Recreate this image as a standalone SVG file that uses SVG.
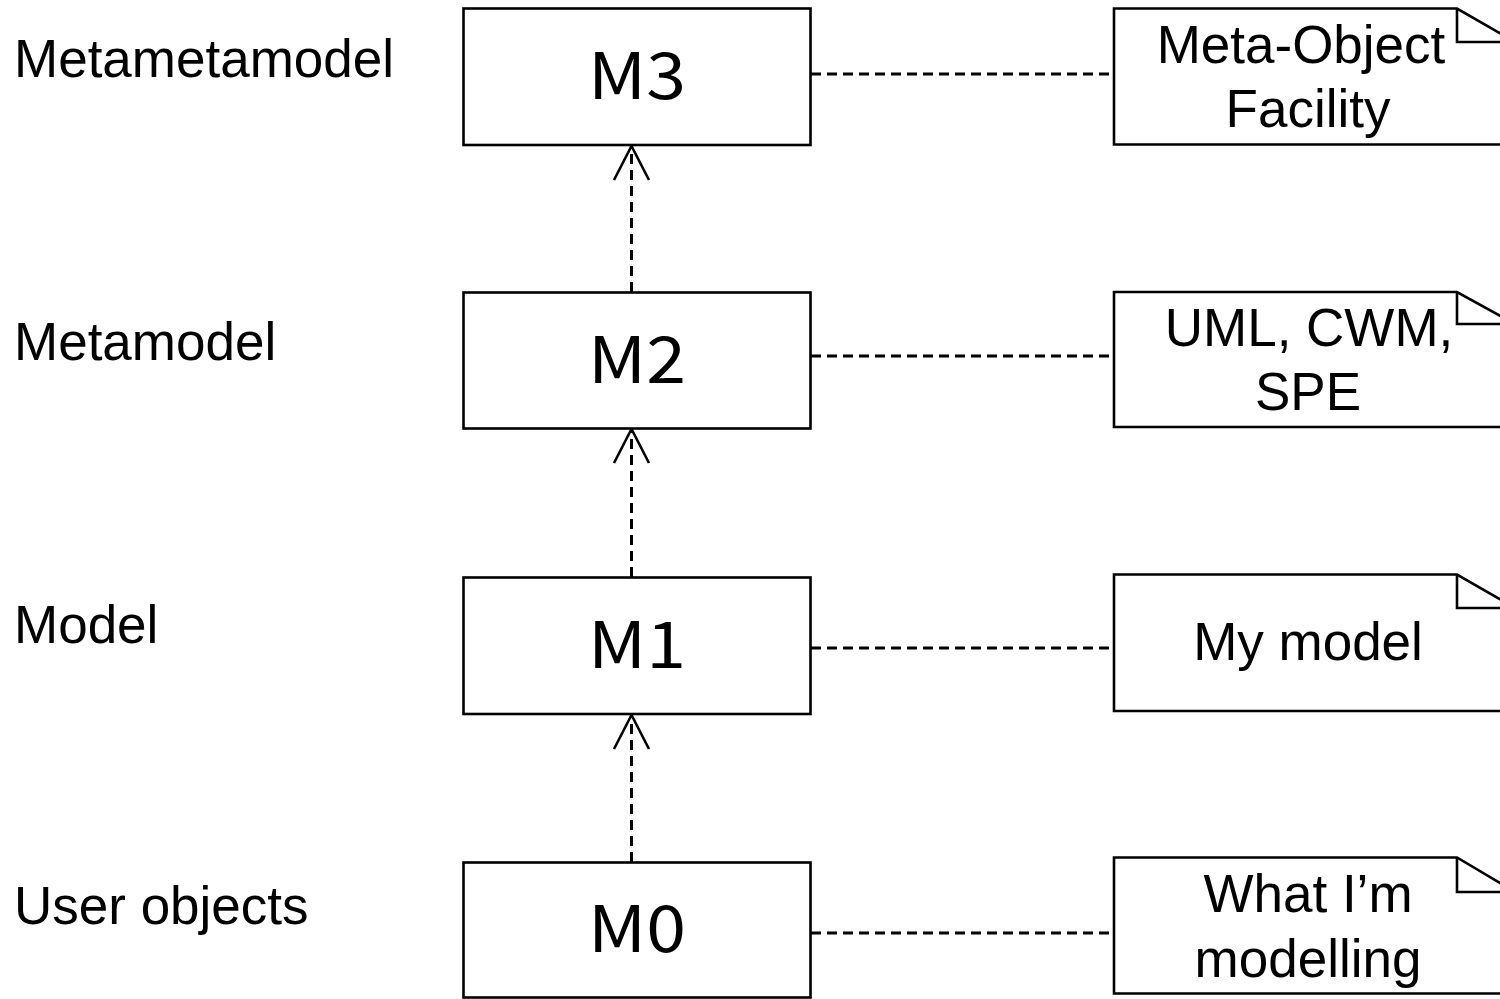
<svg xmlns="http://www.w3.org/2000/svg" width="1500" height="999" viewBox="0 0 1500 999">
<style>
.box{fill:#fff;stroke:#000;stroke-width:2.6}
.note{fill:#fff;stroke:#000;stroke-width:2.6;stroke-linejoin:miter}
.fold{fill:none;stroke:#000;stroke-width:2.6}
.dash{fill:none;stroke:#000;stroke-width:3;stroke-dasharray:10 6}
.head{fill:none;stroke:#000;stroke-width:2.6}
.lbl{font-family:"Liberation Sans",Arial,sans-serif;font-size:53px;fill:#000}
.mt{font-family:"Noto Sans CJK JP","DejaVu Sans",sans-serif;font-size:64px;fill:#000;text-anchor:middle}
.nt{font-family:"Liberation Sans",Arial,sans-serif;font-size:53px;fill:#000;text-anchor:middle}
</style>
<rect width="1500" height="999" fill="#fff"/>
<g id="labels">
<text class="lbl" x="14" y="77">Metametamodel</text>
<text class="lbl" x="14" y="360">Metamodel</text>
<text class="lbl" x="14" y="643">Model</text>
<text class="lbl" x="14" y="924">User objects</text>
</g>
<g id="connectors">
<line class="dash" x1="631.5" y1="292" x2="631.5" y2="148"/>
<polyline class="head" points="614,180 631.5,146 649,180"/>
<line class="dash" x1="631.5" y1="577" x2="631.5" y2="431"/>
<polyline class="head" points="614,463 631.5,429 649,463"/>
<line class="dash" x1="631.5" y1="862" x2="631.5" y2="717"/>
<polyline class="head" points="614,749 631.5,715 649,749"/>
<line class="dash" x1="811" y1="74" x2="1114" y2="74"/>
<line class="dash" x1="811" y1="356" x2="1114" y2="356"/>
<line class="dash" x1="811" y1="648" x2="1114" y2="648"/>
<line class="dash" x1="811" y1="933" x2="1114" y2="933"/>
</g>
<g id="M3">
<rect class="box" x="463.5" y="8.5" width="347" height="136.5"/>
<text class="mt" transform="translate(637,99) scale(1.12,1)">M3</text>
</g>
<g id="M2">
<rect class="box" x="463.5" y="292.5" width="347" height="136"/>
<text class="mt" transform="translate(637,383) scale(1.12,1)">M2</text>
</g>
<g id="M1">
<rect class="box" x="463.5" y="577.5" width="347" height="136.5"/>
<text class="mt" transform="translate(637,668) scale(1.12,1)">M1</text>
</g>
<g id="M0">
<rect class="box" x="463.5" y="862.5" width="347" height="135"/>
<text class="mt" transform="translate(637,952) scale(1.12,1)">M0</text>
</g>
<g id="note-mof">
<path class="note" d="M1114,8.5 H1457 L1515,42 V144.5 H1114 Z"/>
<path class="fold" d="M1457,8.5 V42 H1515"/>
<text class="nt" x="1301" y="63">Meta-Object</text>
<text class="nt" x="1308" y="127">Facility</text>
</g>
<g id="note-uml">
<path class="note" d="M1114,292 H1457 L1515,324 V427 H1114 Z"/>
<path class="fold" d="M1457,292 V324 H1515"/>
<text class="nt" x="1309" y="346">UML, CWM,</text>
<text class="nt" x="1308" y="410">SPE</text>
</g>
<g id="note-mymodel">
<path class="note" d="M1114,574.5 H1457 L1515,608 V711 H1114 Z"/>
<path class="fold" d="M1457,574.5 V608 H1515"/>
<text class="nt" x="1308" y="660">My model</text>
</g>
<g id="note-modelling">
<path class="note" d="M1114,857.5 H1457 L1515,892 V993.5 H1114 Z"/>
<path class="fold" d="M1457,857.5 V892 H1515"/>
<text class="nt" x="1308" y="912">What I’m</text>
<text class="nt" x="1308" y="977">modelling</text>
</g>
</svg>
